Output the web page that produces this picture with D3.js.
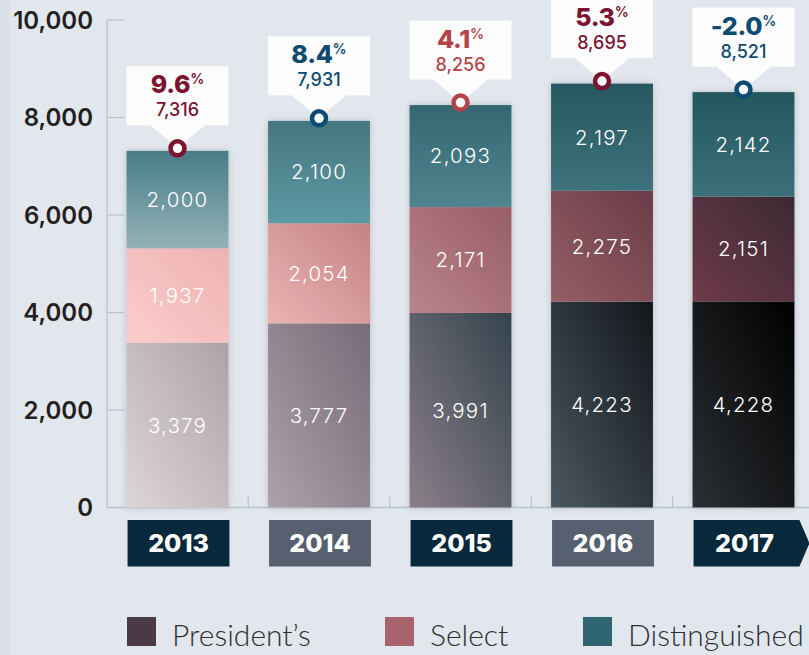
<!DOCTYPE html>
<html><head><meta charset="utf-8">
<script src="https://cdn.jsdelivr.net/npm/d3@7"></script>
<style>
html,body{margin:0;padding:0;background:#e2e6ed;}
svg{display:block;}
</style></head>
<body>
<svg id="chart" width="809" height="655"></svg>
<script>
// ---- data ----
const years = ["2013","2014","2015","2016","2017"];
const presidents = [3379, 3777, 3991, 4223, 4228];
const selects = [1937, 2054, 2171, 2275, 2151];
const distinguished = [2000, 2100, 2093, 2197, 2142];
const totals = [7316, 7931, 8256, 8695, 8521];
const growth = ["9.6", "8.4", "4.1", "5.3", "-2.0"];
const yTicks = [0, 2000, 4000, 6000, 8000, 10000];
const seriesNames = ["President\u2019s", "Select", "Distinguished"];

// ---- styles ----
const gradStops = {
  pres: [["#dcd5d7","#aea2a9"],["#aca2a9","#766b77"],["#8b7f89","#34434d"],["#4b5761","#12161a"],["#2b2f33","#000000"]],
  sel:  [["#fbcdcc","#eeb2b1"],["#ebb3b3","#c38284"],["#bb848b","#985d66"],["#955e67","#6a3c47"],["#70394a","#3a2a33"]],
  dist: [["#487c87","#93b2b8"],["#46767f","#5d9aa4"],["#346772","#50858f"],["#265860","#3e727c"],["#235760","#3b707a"]]
};
const calloutColors = ["#7b1431","#0d4b72","#b5444a","#7b1431","#0d4b72"];
const yearBoxColors = ["#08293b","#566070","#08293b","#566070","#08293b"];
const legendColors = ["#4a3a43","#a8646c","#2e6570"];
const legendX = [127, 385, 583];

const svg = d3.select("#chart");
svg.append("rect").attr("x",0).attr("y",0).attr("width",10).attr("height",655).attr("fill","#dce1e8");

const defs = svg.append("defs");
const f = defs.append("filter").attr("id","sh").attr("x","-20%").attr("y","-20%").attr("width","140%").attr("height","140%");
f.append("feDropShadow").attr("dx",0).attr("dy",0).attr("stdDeviation",3).attr("flood-color","#000").attr("flood-opacity",0.18);

const x = d3.scaleBand().domain(years).range([106.75, 814.25]).paddingInner(0.28).paddingOuter(0.14);
const y = d3.scaleLinear().domain([0, 10000]).range([507.5, 20]);

// gradients
["pres","sel","dist"].forEach(k=>{
  years.forEach((yr,i)=>{
    const g = defs.append("linearGradient").attr("id",`g-${k}-${i}`);
    if(k==="dist"){ g.attr("x1",0).attr("y1",0).attr("x2",0).attr("y2",1); }
    else { g.attr("x1",0).attr("y1",1).attr("x2",1).attr("y2",0); }
    g.append("stop").attr("offset","0%").attr("stop-color",gradStops[k][i][0]);
    g.append("stop").attr("offset","100%").attr("stop-color",gradStops[k][i][1]);
  });
});

// axis
const axisCol = "#b8c5cc";
svg.append("line").attr("x1",107).attr("x2",107).attr("y1",y(10000)).attr("y2",y(0)).attr("stroke",axisCol).attr("stroke-width",1.3);
svg.append("line").attr("x1",107).attr("x2",809).attr("y1",y(0)).attr("y2",y(0)).attr("stroke",axisCol).attr("stroke-width",1.3);
svg.selectAll(".yt").data(yTicks.filter(d=>d>0)).enter().append("line")
  .attr("x1",107).attr("x2",124).attr("y1",d=>y(d)).attr("y2",d=>y(d)).attr("stroke",axisCol).attr("stroke-width",1.3);
svg.selectAll(".ytl").data(yTicks).enter().append("text")
  .attr("x",93).attr("y",d=>y(d)).attr("dy","0.36em").attr("text-anchor","end")
  .attr("font-family","Inter").attr("font-weight",600).attr("font-size",24).attr("fill","#231f20")
  .text(d=>d3.format(",")(d));
// between-bar ticks
svg.selectAll(".bt").data(years.slice(1)).enter().append("line")
  .attr("x1",d=>x(d)-x.step()*x.paddingInner()/2).attr("x2",d=>x(d)-x.step()*x.paddingInner()/2)
  .attr("y1",y(0)-11).attr("y2",y(0)).attr("stroke",axisCol).attr("stroke-width",1.3);

// stacked
const rows = years.map((yr,i)=>({year:yr, pres:presidents[i], sel:selects[i], dist:distinguished[i]}));
const stack = d3.stack().keys(["pres","sel","dist"])(rows);
const bw = x.bandwidth();

// shadow bars
svg.append("g").selectAll("rect").data(years).enter().append("rect")
  .attr("x",d=>x(d)).attr("width",bw).attr("y",(d,i)=>y(totals[i])).attr("height",(d,i)=>y(0)-y(totals[i]))
  .attr("fill","#d0d6de").attr("filter","url(#sh)");

stack.forEach(layer=>{
  const g = svg.append("g");
  g.selectAll("rect").data(layer).enter().append("rect")
    .attr("x",d=>x(d.data.year)).attr("width",bw)
    .attr("y",d=>y(d[1])).attr("height",d=>y(d[0])-y(d[1]))
    .attr("fill",(d,i)=>`url(#g-${layer.key}-${i})`);
  g.selectAll("text").data(layer).enter().append("text")
    .attr("x",d=>x(d.data.year)+bw/2).attr("y",d=>(y(d[0])+y(d[1]))/2).attr("dy","0.36em")
    .attr("text-anchor","middle").attr("font-family","Inter").attr("font-weight",300)
    .attr("font-size",20.5).attr("letter-spacing",1.2).attr("fill","#ffffff")
    .text(d=>d3.format(",")(d[1]-d[0]));
});

// callouts
years.forEach((yr,i)=>{
  const cx = x(yr)+bw/2;
  const cy = y(totals[i]) - 2.5;
  const bottom = cy - 23;
  const top = bottom - 59;
  const g = svg.append("g");
  g.append("rect").attr("x",x(yr)).attr("y",top).attr("width",bw).attr("height",59).attr("fill","#fdfdfd");
  g.append("path").attr("d",`M${cx-28},${bottom-0.5} L${cx+28},${bottom-0.5} L${cx},${cy} Z`).attr("fill","#fdfdfd");
  const t = g.append("text").attr("x",cx).attr("y",bottom-32).attr("text-anchor","middle")
    .attr("font-family","Inter").attr("fill",calloutColors[i]);
  t.append("tspan").attr("font-weight",800).attr("font-size",25).attr("letter-spacing",-0.3).text(growth[i]);
  t.append("tspan").attr("font-weight",600).attr("font-size",14).attr("dy",-9).text("%");
  g.append("text").attr("x",cx).attr("y",bottom-9).attr("text-anchor","middle")
    .attr("font-family","Inter").attr("font-weight",500).attr("font-size",18).attr("fill",calloutColors[i])
    .text(d3.format(",")(totals[i]));
  g.append("circle").attr("cx",cx).attr("cy",cy).attr("r",7).attr("fill","#fff")
    .attr("stroke",calloutColors[i]).attr("stroke-width",4.5);
});

// year boxes
years.forEach((yr,i)=>{
  const x0 = x(yr)+1, x1 = x0+bw, y0 = 520, y1 = 566.5;
  const g = svg.append("g");
  if(i===years.length-1){
    g.append("path").attr("d",`M${x0},${y0} L${x1+4},${y0} L${x1+14},${(y0+y1)/2} L${x1+4},${y1} L${x0},${y1} Z`).attr("fill",yearBoxColors[i]);
  } else {
    g.append("rect").attr("x",x0).attr("y",y0).attr("width",bw).attr("height",y1-y0).attr("fill",yearBoxColors[i]);
  }
  g.append("text").attr("x",x0+bw/2).attr("y",(y0+y1)/2).attr("dy","0.36em").attr("text-anchor","middle")
    .attr("font-family","Inter").attr("font-weight",800).attr("font-size",25).attr("fill","#ffffff").text(yr);
});

// legend
seriesNames.forEach((n,i)=>{
  svg.append("rect").attr("x",legendX[i]).attr("y",617).attr("width",29).attr("height",29).attr("fill",legendColors[i]);
  svg.append("text").attr("x",legendX[i]+45).attr("y",645.5).attr("font-family","Lato").attr("font-weight",300)
    .attr("font-size",30).attr("fill","#2f2f33").text(n);
});
</script>
</body></html>
